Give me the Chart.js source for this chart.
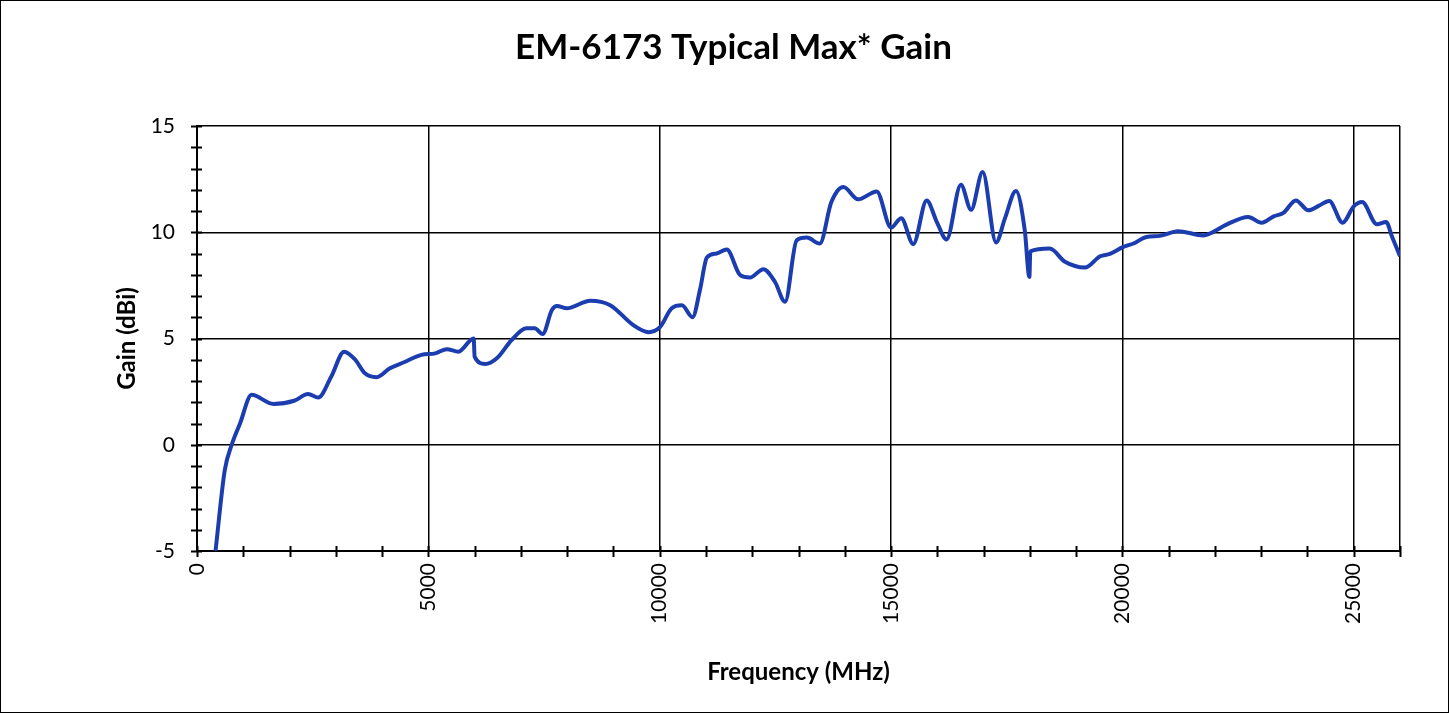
<!DOCTYPE html>
<html>
<head>
<meta charset="utf-8">
<title>EM-6173 Typical Max* Gain</title>
<script src="https://cdn.jsdelivr.net/npm/chart.js@4"></script>
<style>
    html, body { margin: 0; padding: 0; background: #ffffff; }
    #wrap { width: 1449px; height: 713px; position: relative; }
</style>
</head>
<body>
<div id="wrap"><canvas id="gainChart" width="1449" height="713"></canvas></div>
<script>

const frequencies = [
    400, 600, 750, 930, 1180, 1650, 2100, 2400, 2620, 2900,
    3180, 3420, 3630, 3880, 4170, 4460, 4850, 5150, 5400, 5650,
    5980, 6000, 6230, 6480, 6800, 7120, 7300, 7470, 7670, 7780,
    7990, 8500, 8930, 9430, 9760, 10000, 10260, 10480, 10710, 10870,
    11020, 11230, 11450, 11740, 11950, 12240, 12490, 12710, 12960, 13180,
    13460, 13710, 13970, 14290, 14690, 15000, 15220, 15480, 15770, 15990,
    16200, 16510, 16730, 16980, 17270, 17460, 17700, 17890, 17990, 18010,
    18430, 18760, 19190, 19520, 19730, 20020, 20240, 20520, 20810, 21200,
    21750, 21890, 22250, 22720, 23010, 23270, 23480, 23750, 24020, 24240,
    24470, 24760, 25000, 25180, 25500, 25700, 25830, 26000
];

const gains = [
    -5.0, -1.2, 0.0, 1.0, 2.35, 1.92, 2.07, 2.39, 2.22, 3.2,
    4.38, 4.0, 3.36, 3.18, 3.6, 3.87, 4.23, 4.3, 4.5, 4.38,
    5.0, 4.15, 3.8, 4.07, 4.93, 5.48, 5.48, 5.21, 6.34, 6.53,
    6.42, 6.78, 6.57, 5.63, 5.3, 5.52, 6.42, 6.56, 6.0, 7.28,
    8.81, 9.0, 9.19, 7.98, 7.87, 8.26, 7.67, 6.73, 9.62, 9.75,
    9.47, 11.42, 12.13, 11.55, 11.92, 10.22, 10.66, 9.44, 11.5, 10.48,
    9.66, 12.24, 11.06, 12.83, 9.52, 10.64, 11.94, 10.09, 7.9, 9.1,
    9.23, 8.61, 8.34, 8.87, 8.98, 9.31, 9.47, 9.78, 9.83, 10.05,
    9.85, 9.94, 10.36, 10.72, 10.45, 10.75, 10.91, 11.5, 11.03, 11.24,
    11.47, 10.45, 11.22, 11.42, 10.38, 10.48, 9.78, 8.87
];

const xTickLabels = [0, 5000, 10000, 15000, 20000, 25000];
const yTickLabels = [-5, 0, 5, 10, 15];

const FONT = "Lato, 'Open Sans', sans-serif";


// cross ticks at every minor step, like the spreadsheet axes
const crossTicks = {
    id: "crossTicks",
    afterDraw(chart) {
        const ctx = chart.ctx;
        const x = chart.scales.x;
        const y = chart.scales.y;

        ctx.save();
        ctx.strokeStyle = "#000000";
        ctx.lineWidth = 2;
        ctx.beginPath();

        for (let v = -5; v <= 15; v += 1) {
            const py = Math.round(y.getPixelForValue(v)) + 0.5;
            ctx.moveTo(x.left - 6, py);
            ctx.lineTo(x.left + 5, py);
        }

        for (let v = 0; v <= 26000; v += 1000) {
            const px = Math.round(x.getPixelForValue(v)) + 0.5;
            ctx.moveTo(px, y.bottom - 5);
            ctx.lineTo(px, y.bottom + 6);
        }

        ctx.stroke();

        // outer frame of the picture
        ctx.lineWidth = 1;
        ctx.strokeRect(0.5, 0.5, chart.width - 1, chart.height - 1);
        ctx.restore();
    }
};


function isMajorX(v) {
    const r = Math.round(v);
    return xTickLabels.includes(r) || r === 26000;
}


function isMajorY(v) {
    return yTickLabels.includes(Math.round(v)) && Math.abs(v - Math.round(v)) < 1e-6;
}


function drawGainChart() {

    const canvas = document.getElementById("gainChart");

    const points = frequencies.map((f, i) => ({ x: f, y: gains[i] }));

    new Chart(canvas, {

        type: "line",

        data: {
            datasets: [{
                label: "Gain",
                data: points,
                borderColor: "#1b3db0",
                borderWidth: 4,
                pointRadius: 0,
                fill: false,
                cubicInterpolationMode: "monotone"
            }]
        },

        options: {
            responsive: false,
            animation: false,
            layout: {
                padding: { top: 22, left: 67, right: 49, bottom: 20 }
            },

            plugins: {
                legend: { display: false },
                tooltip: { enabled: false },
                title: {
                    display: true,
                    text: "EM-6173 Typical Max* Gain",
                    color: "#000000",
                    font: { family: FONT, size: 35, weight: "bold" },
                    padding: { top: 5, bottom: 57 }
                }
            },

            scales: {
                x: {
                    type: "linear",
                    min: 0,
                    max: 26000,
                    afterFit(scale) {
                        scale.height = 142;
                    },
                    ticks: {
                        stepSize: 1000,
                        maxTicksLimit: 100,
                        autoSkip: false,
                        minRotation: 90,
                        maxRotation: 90,
                        padding: 12,
                        color: "#000000",
                        font: { family: FONT, size: 21 },
                        callback: v => (isMajorX(v) && v !== 26000 ? String(Math.round(v)) : "")
                    },
                    grid: {
                        drawTicks: false,
                        lineWidth: 1.5,
                        color: c => (isMajorX(c.tick.value) ? "#000000" : "transparent")
                    },
                    border: { color: "#000000", width: 2 },
                    title: {
                        display: true,
                        text: "Frequency (MHz)",
                        color: "#000000",
                        font: { family: FONT, size: 24, weight: "bold" },
                        padding: { top: 0, bottom: 6 }
                    }
                },

                y: {
                    min: -5,
                    max: 15,
                    afterFit(scale) {
                        scale.width = 130;
                    },
                    ticks: {
                        stepSize: 1,
                        maxTicksLimit: 100,
                        autoSkip: false,
                        padding: 22,
                        color: "#000000",
                        font: { family: FONT, size: 21 },
                        callback: v => (isMajorY(v) ? String(Math.round(v)) : "")
                    },
                    grid: {
                        drawTicks: false,
                        lineWidth: 1.5,
                        color: c => (isMajorY(c.tick.value) ? "#000000" : "transparent")
                    },
                    border: { color: "#000000", width: 2 },
                    title: {
                        display: true,
                        text: "Gain (dBi)",
                        color: "#000000",
                        font: { family: FONT, size: 24, weight: "bold" },
                        padding: { top: 46, bottom: 0 }
                    }
                }
            }
        },

        plugins: [crossTicks]
    });
}


drawGainChart();

</script>
</body>
</html>
